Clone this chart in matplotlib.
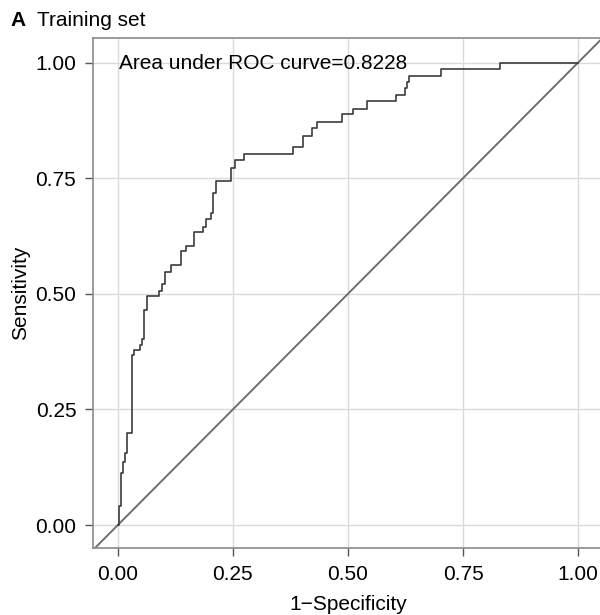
import matplotlib
matplotlib.use("Agg")
import matplotlib.pyplot as plt

# ROC step vertices (1-specificity, sensitivity)
fpr = [0.0, 0.0015, 0.0076, 0.012, 0.0152, 0.0196, 0.0311, 0.0354, 0.0478, 0.0528,
       0.0572, 0.0624, 0.0898, 0.0967, 0.1022, 0.1152, 0.137, 0.1472, 0.1657, 0.1855,
       0.1913, 0.2015, 0.2072, 0.213, 0.2457, 0.2554, 0.2746, 0.3811, 0.4033, 0.4211,
       0.4326, 0.488, 0.5098, 0.5407, 0.605, 0.6239, 0.6276, 0.6333, 0.7011, 0.8304, 1.0]
tpr = [0.0, 0.041, 0.112, 0.136, 0.156, 0.199, 0.368, 0.378, 0.389, 0.403,
       0.465, 0.496, 0.505, 0.521, 0.547, 0.562, 0.593, 0.604, 0.633, 0.645,
       0.661, 0.674, 0.718, 0.744, 0.773, 0.789, 0.802, 0.817, 0.842, 0.858,
       0.872, 0.888, 0.9, 0.917, 0.93, 0.944, 0.957, 0.97, 0.986, 1.0, 1.0]
ticks = [0.0, 0.25, 0.5, 0.75, 1.0]
tick_labels = ["0.00", "0.25", "0.50", "0.75", "1.00"]
auc_text = "Area under ROC curve=0.8228"

plt.rcParams['font.family'] = ['Liberation Sans', 'DejaVu Sans']

fig = plt.figure(figsize=(6.0, 6.15), dpi=100)
W, H = 600, 615
# panel in pixel terms: left 93, right 603, top 38, bottom 548
ax = fig.add_axes([93 / W, (H - 548) / H, 510 / W, 510 / H])

ax.set_xlim(-0.054, 1.054)
ax.set_ylim(-0.0497, 1.053)
ax.set_xticks(ticks)
ax.set_xticklabels(tick_labels)
ax.set_yticks(ticks)
ax.set_yticklabels(tick_labels)
ax.grid(True, color="#dadada", linewidth=1.0)
ax.set_axisbelow(True)

for s in ax.spines.values():
    s.set_color("#8a8a8a")
    s.set_linewidth(1.2)
ax.tick_params(colors="#555555", labelcolor="black", labelsize=15, length=6, width=1.0)
ax.tick_params(axis="x", pad=6.5)
ax.tick_params(axis="y", pad=6)

ax.axline((0, 0), slope=1, color="#6e6e6e", linewidth=1.4)
ax.plot(fpr, tpr, drawstyle="steps-post", color="#3c3c3c", linewidth=1.2)

ax.text(0.003, 0.997, auc_text, ha="left", va="center", fontsize=15)

ax.set_xlabel("1\u2212Specificity", fontsize=15, labelpad=8)
ax.set_ylabel("Sensitivity", fontsize=15, labelpad=4)

fig.text(10 / W, 1 - 20 / H, "A", fontsize=15, fontweight="bold", ha="left", va="center")
fig.text(37 / W, 1 - 20 / H, "Training set", fontsize=15, ha="left", va="center")

fig.savefig("out.png", dpi=100)
